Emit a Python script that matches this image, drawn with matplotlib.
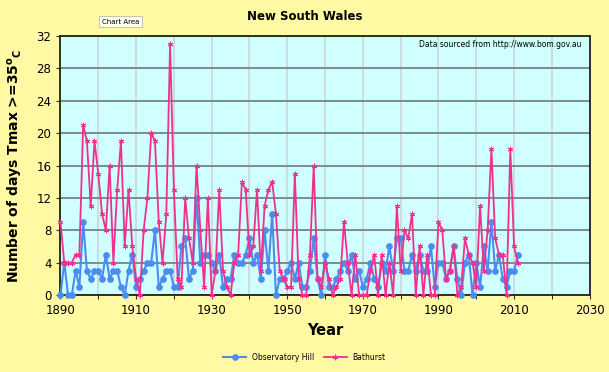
import matplotlib.pyplot as plt
from matplotlib.ticker import MultipleLocator

years = list(range(1890, 2012))

observatory_hill = [0, 4, 0, 0, 3, 1, 9, 3, 2, 3,
                    3, 2, 5, 2, 3, 3, 1, 0, 3, 5,
                    1, 2, 3, 4, 4, 8, 1, 2, 3, 3,
                    1, 1, 6, 7, 2, 3, 12, 4, 5, 5,
                    4, 3, 5, 1, 2, 2, 5, 4, 4, 5,
                    7, 4, 5, 2, 8, 3, 10, 0, 2, 2,
                    3, 4, 2, 4, 1, 1, 3, 7, 2, 0,
                    5, 1, 1, 2, 3, 4, 3, 5, 2, 3,
                    1, 2, 4, 2, 1, 4, 3, 6, 3, 7,
                    7, 3, 3, 5, 3, 5, 3, 3, 6, 1,
                    4, 4, 2, 3, 6, 2, 0, 4, 5, 0,
                    4, 1, 6, 3, 9, 3, 5, 2, 1, 3,
                    3, 5]

bathurst = [9, 4, 4, 4, 5, 5, 21, 19, 11, 19,
            15, 10, 8, 16, 4, 13, 19, 6, 13, 6,
            2, 0, 8, 12, 20, 19, 9, 4, 10, 31,
            13, 2, 1, 12, 7, 4, 16, 8, 1, 12,
            0, 3, 13, 3, 1, 0, 4, 5, 14, 13,
            5, 6, 13, 3, 11, 13, 14, 10, 3, 2,
            1, 1, 15, 2, 0, 0, 5, 16, 2, 1,
            4, 2, 0, 1, 2, 9, 4, 0, 5, 0,
            0, 0, 3, 5, 0, 5, 0, 4, 0, 11,
            3, 8, 7, 10, 0, 6, 0, 5, 0, 0,
            9, 8, 2, 3, 6, 0, 1, 7, 5, 4,
            1, 11, 3, 8, 18, 7, 5, 5, 0, 18,
            6, 4]

x_ticks = list(range(1890, 2031, 20))
y_ticks = list(range(0, 33, 4))

bg = '#FFF9A3'
blue = '#4A8CF0'
pink = '#F0308C'

fig = plt.figure(figsize=(6.09, 3.72), dpi=100, facecolor=bg)
ax = fig.add_axes([0.0993, 0.207, 0.869, 0.696])
ax.set_facecolor('#CFFFFF')

ax.plot(years, observatory_hill, color=blue, lw=1.5, marker='o', ms=3.8,
        label='Observatory Hill', zorder=3, clip_on=False)
ax.plot(years, bathurst, color=pink, lw=1.3, marker=(6, 2, 0), ms=4,
        mew=0.7, label='Bathurst', zorder=4, clip_on=False)

ax.set_xlim(1890, 2030)
ax.set_ylim(0, 32)
ax.set_xticks(x_ticks)
ax.xaxis.set_minor_locator(MultipleLocator(10))
ax.set_yticks(y_ticks)
ax.grid(axis='y', color='#7C8C8C', lw=1.4, zorder=1)
ax.grid(axis='x', which='both', color='#CCD6D6', lw=1.2, zorder=1)
ax.set_axisbelow(True)
for s in ax.spines.values():
    s.set_color('#222222')
    s.set_linewidth(1.3)
ax.tick_params(axis='both', labelsize=8.5, length=3, color='#333333')
ax.tick_params(axis='x', which='minor', length=3)

ax.set_xlabel('Year', fontsize=10.5, fontweight='bold')
ax.set_ylabel('Number of days Tmax >=35$^{\\mathbf{o}}$$_{\\mathbf{C}}$',
              fontsize=10, fontweight='bold', labelpad=8)
fig.text(0.5, 0.955, 'New South Wales', ha='center', va='center',
         fontsize=8.5, fontweight='bold')
ax.text(0.985, 0.985, 'Data sourced from http://www.bom.gov.au',
        transform=ax.transAxes, ha='right', va='top', fontsize=5.5)
fig.text(0.198, 0.942, 'Chart Area', ha='center', va='center', fontsize=5,
         bbox=dict(boxstyle='square,pad=0.4', fc='#FFFFF0', ec='#BBBBAA', lw=0.6))

fig.legend(loc='center', bbox_to_anchor=(0.5, 0.04), ncol=2, frameon=False,
           fontsize=5.5, handlelength=3, columnspacing=1.2)

plt.savefig('out.png', dpi=100, facecolor=bg)
